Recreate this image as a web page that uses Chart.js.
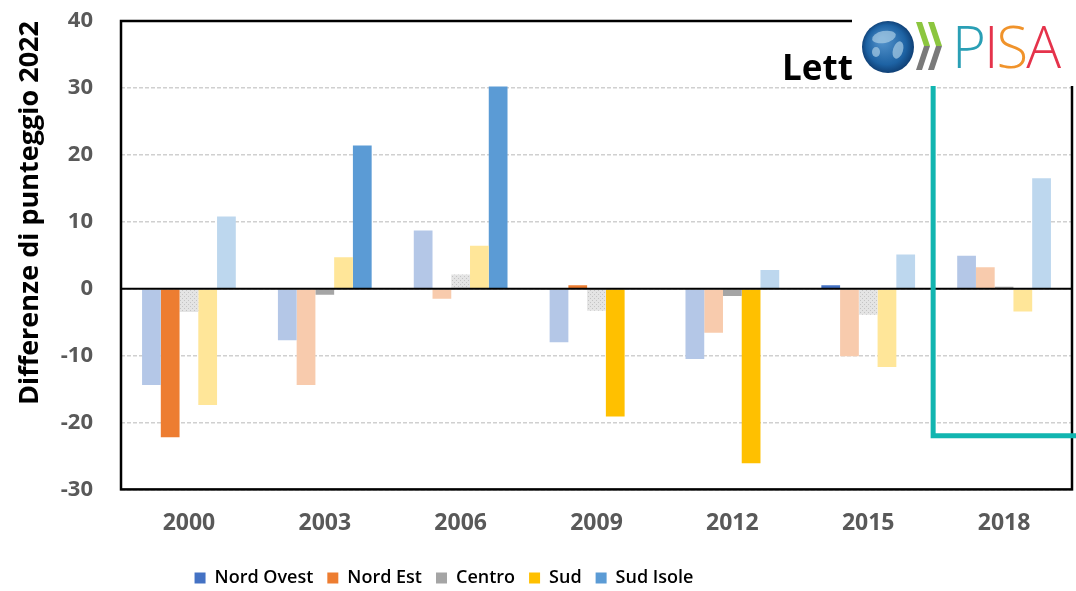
<!DOCTYPE html>
<html>
<head>
<meta charset="utf-8">
<script src="https://cdn.jsdelivr.net/npm/chart.js@4.4.0/dist/chart.umd.min.js"></script>
<style>
  html, body { margin: 0; padding: 0; background: #fff; }
  #wrap { width: 1076px; height: 591px; }
</style>
</head>
<body>
<div id="wrap"><canvas id="pisaChart"></canvas></div>
<script>
// === DATI ===
const years = ['2000', '2003', '2006', '2009', '2012', '2015', '2018'];
const nordOvest = [-14.4, -7.7, 8.7, -8.0, -10.5, 0.5, 4.9];
const nordEst = [-22.2, -14.4, -1.5, 0.5, -6.6, -10.1, 3.2];
const centro = [-3.5, -0.9, 2.1, -3.3, -1.1, -3.9, 0.3];
const sud = [-17.4, 4.7, 6.4, -19.1, -26.1, -11.7, -3.4];
const sudIsole = [10.8, 21.4, 30.2, 0, 2.8, 5.1, 16.5];

// differenza significativa = colore pieno, altrimenti sbiadito
const sigNordOvest = [false, false, false, false, false, true, false];
const sigNordEst = [true, false, false, true, false, false, false];
const sigCentro = [false, true, false, false, true, false, true];
const sigSud = [false, false, false, true, true, false, false];
const sigSudIsole = [false, true, true, false, false, false, false];

const yTicks = [-30, -20, -10, 0, 10, 20, 30, 40];

// === STILE ===
const FONT = "'Open Sans', 'DejaVu Sans', sans-serif";
const solidColors = ['#4472c4', '#ed7d31', '#a5a5a5', '#ffc000', '#5b9bd5'];
const fadedColors = ['#b4c7e7', '#f8cbad', '#d9d9d9', '#ffe699', '#bdd7ee'];

// puntinato grigio per Centro non significativo
function dotPattern() {
  const c = document.createElement('canvas');
  c.width = 4; c.height = 4;
  const g = c.getContext('2d');
  g.fillStyle = '#e4e4e4';
  g.fillRect(0, 0, 4, 4);
  g.fillStyle = '#c4c4c4';
  g.fillRect(0, 0, 1, 1);
  g.fillRect(2, 2, 1, 1);
  return g.createPattern(c, 'repeat');
}
const centroFaded = dotPattern();

function barColors(sig, i) {
  return sig.map(s => {
    if (s) return solidColors[i];
    return i === 2 ? centroFaded : fadedColors[i];
  });
}

const seriesNames = ['Nord Ovest', 'Nord Est', 'Centro', 'Sud', 'Sud Isole'];
const seriesValues = [nordOvest, nordEst, centro, sud, sudIsole];
const seriesSig = [sigNordOvest, sigNordEst, sigCentro, sigSud, sigSudIsole];

// === PLUGIN: cornice, linea dello zero, titolo e logo ===
const framePlugin = {
  id: 'frame',
  afterLayout(chart) {
    // legenda spostata come nell'originale
    const lg = chart.legend;
    if (lg) { lg.left -= 92; lg.right -= 92; lg.top += 6; lg.bottom += 6; }
  },
  afterDatasetsDraw(chart) {
    const { ctx, chartArea: a, scales } = chart;
    ctx.save();
    ctx.strokeStyle = '#000';
    ctx.lineWidth = 2;
    const y0 = scales.y.getPixelForValue(0);
    ctx.beginPath();
    ctx.moveTo(a.left, y0);
    ctx.lineTo(a.right, y0);
    ctx.stroke();
    ctx.lineWidth = 2.5;
    ctx.strokeRect(a.left, a.top, a.right - a.left, a.bottom - a.top);
    ctx.restore();
  },
  afterDraw(chart) {
    const { ctx, scales } = chart;
    ctx.save();
    // riquadro turchese sul 2018
    const xl = (scales.x.getPixelForValue(5) + scales.x.getPixelForValue(6)) / 2 - 3;
    const yb = scales.y.getPixelForValue(-22);
    ctx.strokeStyle = '#12b5b0';
    ctx.lineWidth = 5;
    ctx.beginPath();
    ctx.moveTo(xl, 0);
    ctx.lineTo(xl, yb);
    ctx.lineTo(chart.width + 5, yb);
    ctx.stroke();

    // titolo "Lettura" (coperto dal logo)
    ctx.fillStyle = '#000';
    ctx.font = 'bold 35px ' + FONT;
    ctx.textBaseline = 'alphabetic';
    ctx.fillText('Lettura', 782, 80);

    // logo OCSE PISA
    ctx.fillStyle = '#fff';
    ctx.fillRect(852, 0, chart.width - 852, 86);
    const grd = ctx.createRadialGradient(882, 40, 3, 888, 47, 27);
    grd.addColorStop(0, '#4f8fc8');
    grd.addColorStop(0.7, '#1d62a3');
    grd.addColorStop(1, '#0e3c70');
    ctx.fillStyle = grd;
    ctx.beginPath();
    ctx.arc(888, 47, 26, 0, Math.PI * 2);
    ctx.fill();
    ctx.fillStyle = 'rgba(170,205,230,0.7)';
    ctx.beginPath();
    ctx.ellipse(884, 37, 12, 6, -0.2, 0, Math.PI * 2);
    ctx.fill();
    ctx.beginPath();
    ctx.ellipse(898, 50, 5, 9, 0.3, 0, Math.PI * 2);
    ctx.fill();
    ctx.beginPath();
    ctx.ellipse(876, 52, 4, 5, 0, 0, Math.PI * 2);
    ctx.fill();
    [916, 928].forEach(cx => {
      ctx.fillStyle = '#8cc63f';
      ctx.beginPath();
      ctx.moveTo(cx, 22); ctx.lineTo(cx + 6, 22); ctx.lineTo(cx + 14, 46); ctx.lineTo(cx + 8, 46);
      ctx.closePath(); ctx.fill();
      ctx.fillStyle = '#7a7a7a';
      ctx.beginPath();
      ctx.moveTo(cx + 8, 46); ctx.lineTo(cx + 14, 46); ctx.lineTo(cx + 6, 70); ctx.lineTo(cx, 70);
      ctx.closePath(); ctx.fill();
    });
    ctx.font = '300 58px ' + FONT;
    const letters = [['P', '#2a9fb5'], ['I', '#e5334b'], ['S', '#f0932b'], ['A', '#e5334b']];
    let lx = 952;
    letters.forEach(([ch, col]) => {
      ctx.fillStyle = col;
      ctx.fillText(ch, lx, 68);
      lx += ctx.measureText(ch).width - 2;
    });
    ctx.restore();
  }
};

// === GRAFICO ===
const chartEl = document.getElementById('pisaChart');
new Chart(chartEl.getContext('2d'), {
  type: 'bar',
  data: {
    labels: years,
    datasets: seriesNames.map((name, i) => ({
      label: name,
      data: seriesValues[i],
      backgroundColor: barColors(seriesSig[i], i),
      borderWidth: 0,
      barPercentage: 1,
      categoryPercentage: 0.69
    }))
  },
  options: {
    responsive: true,
    maintainAspectRatio: false,
    animation: false,
    layout: { padding: { top: 21, right: 4, left: 0, bottom: 0 } },
    plugins: {
      tooltip: { enabled: false },
      legend: {
        position: 'bottom',
        labels: {
          boxWidth: 11,
          boxHeight: 11,
          padding: 14,
          color: '#595959',
          font: { family: FONT, size: 18, weight: '600' },
          generateLabels: () => seriesNames.map((name, i) => ({
            text: name,
            fillStyle: solidColors[i],
            strokeStyle: solidColors[i],
            lineWidth: 0,
            datasetIndex: i
          }))
        }
      }
    },
    scales: {
      x: {
        grid: { display: false },
        border: { display: false },
        ticks: {
          color: '#595959',
          padding: 12,
          font: { family: FONT, size: 23, weight: 'bold' }
        }
      },
      y: {
        min: -30,
        max: 40,
        afterBuildTicks: s => { s.ticks = yTicks.map(v => ({ value: v })); },
        afterFit: s => {
          s.width = 121;
          s.paddingTop = 0;
          s.paddingBottom = 0;
        },
        grid: { color: '#d0d0d0', lineWidth: 1.5, drawTicks: false },
        border: { display: false, dash: [4, 2] },
        ticks: {
          color: '#595959',
          padding: 28,
          font: { family: FONT, size: 22, weight: 'bold' }
        },
        title: {
          display: true,
          text: 'Differenze di punteggio 2022',
          color: '#000',
          align: 'end',
          padding: { top: 14, bottom: 0 },
          font: { family: FONT, size: 27, weight: 'bold' }
        }
      }
    }
  },
  plugins: [framePlugin]
});
</script>
</body>
</html>
